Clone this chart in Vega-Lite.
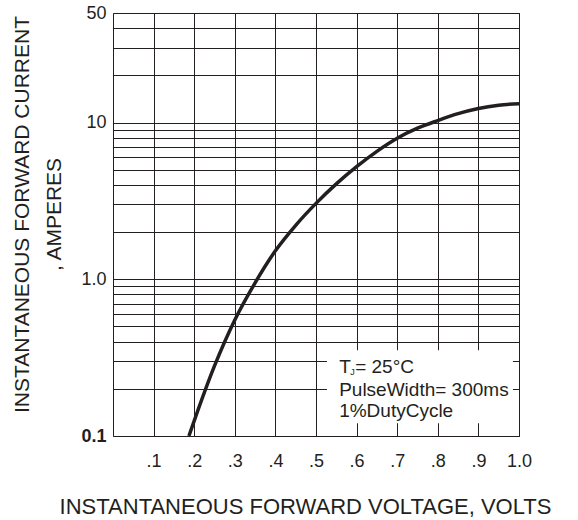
{
  "$schema": "https://vega.github.io/schema/vega-lite/v6.json",
  "width": 406,
  "height": 423,
  "autosize": {"type": "none"},
  "padding": {"left": 113, "top": 13, "right": 59, "bottom": 84},
  "background": "white",
  "config": {
    "view": {"stroke": "#231f20", "strokeWidth": 1},
    "font": "Liberation Sans"
  },
  "layer": [
    {
      "data": {"values": [
        {"v": 0.187, "i": 0.1},
        {"v": 0.2, "i": 0.125},
        {"v": 0.25, "i": 0.28},
        {"v": 0.3, "i": 0.55},
        {"v": 0.35, "i": 0.95},
        {"v": 0.4, "i": 1.52},
        {"v": 0.45, "i": 2.21},
        {"v": 0.5, "i": 3.05},
        {"v": 0.55, "i": 4.06},
        {"v": 0.6, "i": 5.23},
        {"v": 0.65, "i": 6.55},
        {"v": 0.7, "i": 7.94},
        {"v": 0.75, "i": 9.2},
        {"v": 0.8, "i": 10.3},
        {"v": 0.85, "i": 11.4},
        {"v": 0.9, "i": 12.3},
        {"v": 0.95, "i": 12.9},
        {"v": 1.0, "i": 13.2}
      ]},
      "mark": {"type": "line", "color": "#231f20", "strokeWidth": 3.5, "interpolate": "monotone"},
      "encoding": {
        "x": {
          "field": "v", "type": "quantitative",
          "scale": {"domain": [0, 1], "nice": false, "zero": false},
          "axis": {
            "values": [0.1, 0.2, 0.3, 0.4, 0.5, 0.6, 0.7, 0.8, 0.9, 1.0],
            "labelExpr": "datum.value >= 0.99 ? '1.0' : '.' + format(datum.value * 10, '.0f')",
            "grid": true, "gridColor": "#231f20", "gridWidth": 1, "gridOpacity": 1,
            "domain": false, "ticks": false,
            "labelFlush": false, "labelOverlap": false,
            "labelFont": "Liberation Sans", "labelFontSize": 18, "labelColor": "#231f20",
            "labelBaseline": "middle", "labelPadding": 25,
            "title": "INSTANTANEOUS FORWARD VOLTAGE, VOLTS",
            "titleFont": "Liberation Sans", "titleFontSize": 22, "titleFontWeight": "normal",
            "titleColor": "#231f20", "titleX": 192, "titleY": 70, "titleBaseline": "middle"
          }
        },
        "y": {
          "field": "i", "type": "quantitative",
          "scale": {"type": "log", "domain": [0.1, 50], "nice": false},
          "axis": {
            "values": [0.1, 0.2, 0.3, 0.4, 0.5, 0.6, 0.7, 0.8, 0.9, 1, 2, 3, 4, 5, 6, 7, 8, 9, 10, 20, 30, 40, 50],
            "labelExpr": "datum.value == 50 ? '50' : datum.value == 10 ? '10' : datum.value == 1 ? '1.0' : datum.value == 0.1 ? '0.1' : ''",
            "grid": true, "gridColor": "#231f20", "gridWidth": 1, "gridOpacity": 1,
            "domain": false, "ticks": false,
            "labelFlush": false, "labelOverlap": false,
            "labelFont": "Liberation Sans", "labelFontSize": 18, "labelColor": "#231f20",
            "labelFontWeight": {"condition": {"test": "datum.value < 0.5", "value": "bold"}, "value": "normal"},
            "labelPadding": 7,
            "title": ["INSTANTANEOUS FORWARD CURRENT", ", AMPERES"],
            "titleFont": "Liberation Sans", "titleFontSize": 21, "titleFontWeight": "normal",
            "titleColor": "#231f20", "titleX": -91, "titleY": 201, "titleAngle": -90,
            "titleAlign": "center", "titleBaseline": "middle", "titleLineHeight": 32
          }
        }
      }
    },
    {
      "data": {"values": [{"box": "annotation"}]},
      "mark": {"type": "rect", "color": "white", "stroke": null},
      "encoding": {
        "x": {"datum": 0.527, "type": "quantitative"},
        "x2": {"datum": 0.985},
        "y": {"datum": 0.1205, "type": "quantitative"},
        "y2": {"datum": 0.353}
      }
    },
    {
      "data": {"values": [{"t": "T"}]},
      "mark": {"type": "text", "align": "left", "baseline": "middle", "fontSize": 19, "color": "#231f20", "font": "Liberation Sans"},
      "encoding": {
        "text": {"field": "t"},
        "x": {"datum": 0.557, "type": "quantitative"},
        "y": {"datum": 0.275, "type": "quantitative"}
      }
    },
    {
      "data": {"values": [{"t": "J"}]},
      "mark": {"type": "text", "align": "left", "baseline": "middle", "fontSize": 9, "dx": 11, "dy": 5, "color": "#231f20", "font": "Liberation Sans"},
      "encoding": {
        "text": {"field": "t"},
        "x": {"datum": 0.557, "type": "quantitative"},
        "y": {"datum": 0.275, "type": "quantitative"}
      }
    },
    {
      "data": {"values": [{"t": "= 25°C"}]},
      "mark": {"type": "text", "align": "left", "baseline": "middle", "fontSize": 19, "dx": 16, "color": "#231f20", "font": "Liberation Sans"},
      "encoding": {
        "text": {"field": "t"},
        "x": {"datum": 0.557, "type": "quantitative"},
        "y": {"datum": 0.275, "type": "quantitative"}
      }
    },
    {
      "data": {"values": [{"t": "PulseWidth= 300ms"}]},
      "mark": {"type": "text", "align": "left", "baseline": "middle", "fontSize": 19, "color": "#231f20", "font": "Liberation Sans"},
      "encoding": {
        "text": {"field": "t"},
        "x": {"datum": 0.557, "type": "quantitative"},
        "y": {"datum": 0.196, "type": "quantitative"}
      }
    },
    {
      "data": {"values": [{"t": "1%DutyCycle"}]},
      "mark": {"type": "text", "align": "left", "baseline": "middle", "fontSize": 19, "color": "#231f20", "font": "Liberation Sans"},
      "encoding": {
        "text": {"field": "t"},
        "x": {"datum": 0.557, "type": "quantitative"},
        "y": {"datum": 0.144, "type": "quantitative"}
      }
    }
  ]
}
